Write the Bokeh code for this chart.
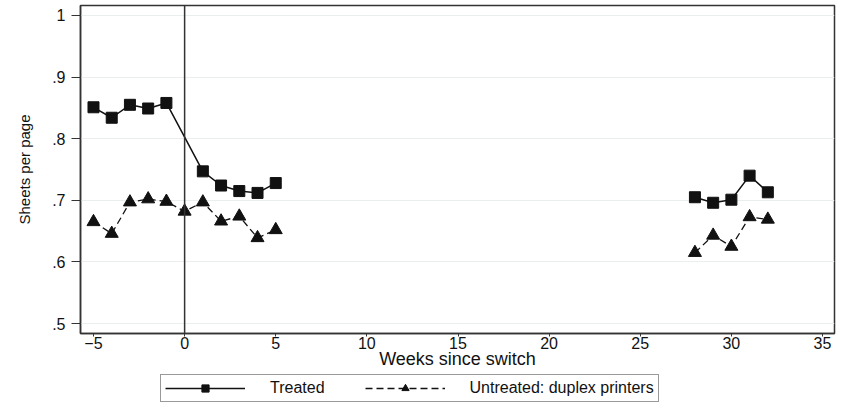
import numpy as np
from bokeh.plotting import figure
from bokeh.layouts import column
from bokeh.models import Span, Legend, LegendItem, FixedTicker, Range1d
from bokeh.embed import file_html
from bokeh.resources import INLINE

nan = float("nan")
weeks = [-5, -4, -3, -2, -1, 0, 1, 2, 3, 4, 5, 28, 29, 30, 31, 32]
treated = [0.851, 0.834, 0.855, 0.849, 0.858, nan, 0.747, 0.724, 0.715, 0.712, 0.728,
           0.705, 0.696, 0.701, 0.740, 0.713]
untreated = [0.665, 0.646, 0.697, 0.702, 0.698, 0.682, 0.697, 0.666, 0.674, 0.639, 0.652,
             0.615, 0.643, 0.625, 0.673, 0.669]
x_ticks = [-5, 0, 5, 10, 15, 20, 25, 30, 35]
y_ticks = [0.5, 0.6, 0.7, 0.8, 0.9, 1.0]
y_tick_labels = [".5", ".6", ".7", ".8", ".9", "1"]

FONT = "Liberation Sans"
INK = "#111111"

def segs(xs, ys, gap_after):
    lx, ly = [], []
    for xv, yv in zip(xs, ys):
        if yv != yv:
            continue
        lx.append(xv); ly.append(yv)
        if xv == gap_after:
            lx.append(nan); ly.append(nan)
    return lx, ly

tx, ty = segs(weeks, treated, 5)
ux, uy = segs(weeks, untreated, 5)

def draw(fig):
    a = fig.line(tx, ty, line_color=INK, line_width=1.5)
    b = fig.scatter(weeks, treated, marker="square", size=11, fill_color=INK, line_color=INK)
    c = fig.line(ux, uy, line_color=INK, line_width=1.3, line_dash="7 4")
    d = fig.scatter(weeks, untreated, marker="triangle", size=13, fill_color=INK, line_color=INK)
    return a, b, c, d

p = figure(width=850, height=372, output_backend="svg", toolbar_location=None,
           x_range=Range1d(-5.713, 35.658), y_range=Range1d(0.4838, 1.0162),
           min_border_left=80, min_border_right=16, min_border_top=5, min_border_bottom=39)
p.background_fill_color = "white"
p.border_fill_color = "white"
p.outline_line_color = "#333333"
p.outline_line_width = 1.5

p.xgrid.grid_line_color = None
p.ygrid.grid_line_color = "#eaeeee"
p.ygrid.grid_line_width = 1

p.xaxis.ticker = FixedTicker(ticks=x_ticks)
p.yaxis.ticker = FixedTicker(ticks=y_ticks)
p.xaxis.major_label_overrides = {-5: "\u22125"}
p.yaxis.major_label_overrides = {t: l for t, l in zip(y_ticks, y_tick_labels)}
p.yaxis.major_label_orientation = "horizontal"
for ax in (p.xaxis, p.yaxis):
    ax.axis_line_color = "#333333"
    ax.axis_line_width = 1.5
    ax.major_tick_line_color = "#333333"
    ax.major_tick_in = 0
    ax.minor_tick_line_color = None
    ax.major_label_text_font = FONT
    ax.major_label_text_font_size = "16px"
    ax.major_label_text_color = INK
    ax.axis_label_text_font = FONT
    ax.axis_label_text_font_style = "normal"
    ax.axis_label_text_color = INK
p.xaxis.major_tick_out = 3
p.yaxis.major_tick_out = 9
p.xaxis.major_label_standoff = 0
p.yaxis.major_label_standoff = 6
p.xaxis.axis_label = "Weeks since switch"
p.xaxis.axis_label_text_font_size = "18px"
p.xaxis.axis_label_standoff = -3
p.yaxis.axis_label = "Sheets per page"
p.yaxis.axis_label_text_font_size = "15px"
p.yaxis.axis_label_standoff = 16

p.add_layout(Span(location=0, dimension="height", line_color="#333333", line_width=1.5))
draw(p)

# legend strip below the chart (its own renderers are kept out of view)
q = figure(width=850, height=34, output_backend="svg", toolbar_location=None,
           x_range=Range1d(-5.713, 35.658), y_range=Range1d(10, 11),
           x_axis_location=None, y_axis_location=None,
           min_border_left=0, min_border_right=0, min_border_top=0, min_border_bottom=0)
q.grid.grid_line_color = None
q.outline_line_color = None
q.border_fill_color = "white"
r1, r2, r3, r4 = draw(q)

legend = Legend(items=[LegendItem(label="Treated", renderers=[r1, r2]),
                       LegendItem(label="Untreated: duplex printers", renderers=[r3, r4])],
                orientation="horizontal", location=(80, 4))
legend.label_text_font = FONT
legend.label_text_font_size = "16px"
legend.label_text_color = INK
legend.glyph_width = 80
legend.glyph_height = 18
legend.label_standoff = 25
legend.spacing = 40
legend.padding = 4
legend.margin = 0
legend.border_line_color = "#333333"
legend.border_line_width = 1.5
legend.background_fill_alpha = 1
q.add_layout(legend, "center")

layout = column(p, q, spacing=0)
open("out.html", "w").write(file_html(layout, INLINE))
